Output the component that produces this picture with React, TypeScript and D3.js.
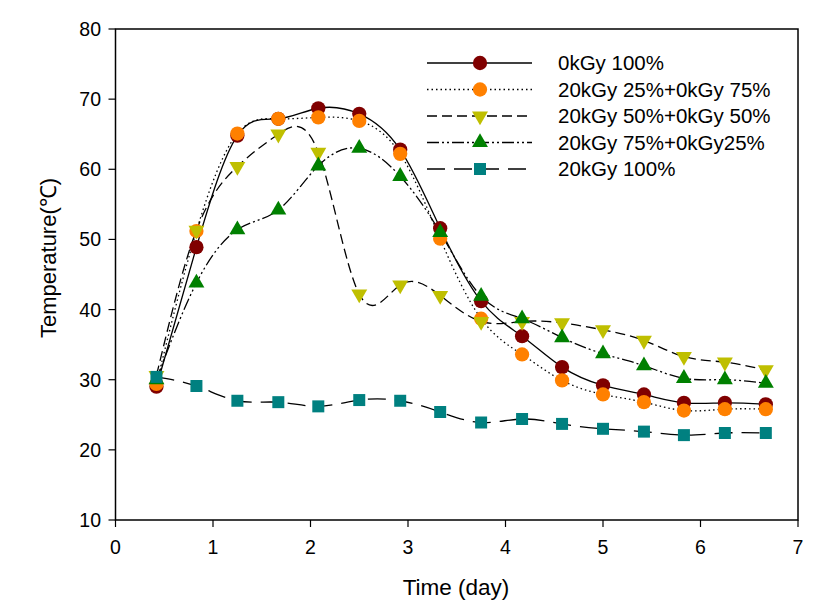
import React from "react";
import * as d3 from "d3";

const days = [0.42, 0.83, 1.25, 1.67, 2.08, 2.5, 2.92, 3.33, 3.75, 4.17, 4.58, 5.0, 5.42, 5.83, 6.25, 6.67];
const s0kGy100 = [29.0, 48.9, 64.8, 67.2, 68.7, 67.9, 62.8, 51.6, 41.2, 36.2, 31.8, 29.2, 27.9, 26.7, 26.7, 26.5];
const s20kGy25 = [29.4, 51.2, 65.1, 67.2, 67.4, 66.9, 62.2, 50.1, 38.7, 33.6, 29.9, 27.9, 26.8, 25.6, 25.8, 25.8];
const s20kGy50 = [30.6, 51.3, 60.4, 65.0, 62.4, 42.2, 43.5, 42.0, 38.3, 38.3, 38.1, 37.1, 35.6, 33.3, 32.5, 31.4];
const s20kGy75 = [30.0, 43.8, 51.4, 54.2, 60.5, 63.0, 59.0, 51.0, 41.9, 38.7, 36.0, 33.7, 32.0, 30.2, 30.0, 29.5];
const s20kGy100 = [30.4, 29.1, 27.0, 26.8, 26.2, 27.1, 27.0, 25.4, 23.9, 24.4, 23.7, 23.0, 22.6, 22.1, 22.4, 22.4];

const seriesNames = ["0kGy 100%", "20kGy 25%+0kGy 75%", "20kGy 50%+0kGy 50%", "20kGy 75%+0kGy25%", "20kGy 100%"];
const seriesValues = [s0kGy100, s20kGy25, s20kGy50, s20kGy75, s20kGy100];
const seriesColors = ["#800000", "#ff8000", "#bfbf00", "#008000", "#008080"];
const seriesDash = ["none", "1.5,3", "10,5", "12,3,2,3,2,3", "18,9"];
const seriesShape = ["circle", "circle", "down", "up", "square"];

const xTicks = [0, 1, 2, 3, 4, 5, 6, 7];
const yTicks = [10, 20, 30, 40, 50, 60, 70, 80];

const FONT = "'Liberation Sans', Arial, sans-serif";

function Marker({ shape, x, y, color }: { shape: string; x: number; y: number; color: string }) {
  if (shape === "circle") {
    return <path d={d3.symbol(d3.symbolCircle, 160)()!} transform={`translate(${x},${y})`} fill={color} />;
  }
  if (shape === "square") {
    return <path d={d3.symbol(d3.symbolSquare, 144)()!} transform={`translate(${x},${y})`} fill={color} />;
  }
  const rot = shape === "down" ? 180 : 0;
  return <path d={d3.symbol(d3.symbolTriangle, 110)()!} transform={`translate(${x},${y}) rotate(${rot})`} fill={color} />;
}

export default function App() {
  const x = d3.scaleLinear().domain([0, 7]).range([115.5, 798]);
  const y = d3.scaleLinear().domain([10, 80]).range([520, 29]);
  const line = d3
    .line<number>()
    .x((_, i) => x(days[i]))
    .y((v) => y(v))
    .curve(d3.curveNatural);

  const legX0 = 427;
  const legX1 = 532;
  const legMid = 480;
  const legY0 = 63;
  const legDy = 26.5;

  return (
    <svg width={826} height={614} style={{ position: "fixed", left: 0, top: 0, background: "#fff" }} fontFamily={FONT}>
      <rect x={0} y={0} width={826} height={614} fill="#fff" />
      <rect x={x(0)} y={y(80)} width={x(7) - x(0)} height={y(10) - y(80)} fill="none" stroke="#000" strokeWidth={1.5} />
      {xTicks.map((t) => (
        <g key={"xt" + t}>
          <line x1={x(t)} x2={x(t)} y1={y(10)} y2={y(10) + 7} stroke="#000" strokeWidth={1.2} />
          <text x={x(t)} y={554} textAnchor="middle" fontSize={19.5} fill="#000">
            {t}
          </text>
        </g>
      ))}
      {yTicks.map((t) => (
        <g key={"yt" + t}>
          <line x1={x(0) - 7} x2={x(0)} y1={y(t)} y2={y(t)} stroke="#000" strokeWidth={1.2} />
          <text x={101} y={y(t) + 7} textAnchor="end" fontSize={19.5} fill="#000">
            {t}
          </text>
        </g>
      ))}
      <text x={456} y={595} textAnchor="middle" fontSize={22.5} fill="#000">
        Time (day)
      </text>
      <text transform="translate(56,258) rotate(-90)" textAnchor="middle" fontSize={22} fill="#000">
        Temperature(℃)
      </text>
      {seriesValues.map((vals, si) => (
        <path
          key={"l" + si}
          d={line(vals)!}
          fill="none"
          stroke="#000"
          strokeWidth={1.3}
          strokeDasharray={seriesDash[si]}
        />
      ))}
      {seriesValues.map((vals, si) =>
        vals.map((v, i) => (
          <Marker key={`m${si}-${i}`} shape={seriesShape[si]} x={x(days[i])} y={y(v)} color={seriesColors[si]} />
        ))
      )}
      {seriesNames.map((name, si) => {
        const ly = legY0 + si * legDy;
        return (
          <g key={"lg" + si}>
            <line x1={legX0} x2={legX1} y1={ly} y2={ly} stroke="#000" strokeWidth={1.3} strokeDasharray={seriesDash[si]} />
            <Marker shape={seriesShape[si]} x={legMid} y={ly} color={seriesColors[si]} />
            <text x={558} y={ly + 7} fontSize={20.5} fill="#000">
              {name}
            </text>
          </g>
        );
      })}
    </svg>
  );
}
